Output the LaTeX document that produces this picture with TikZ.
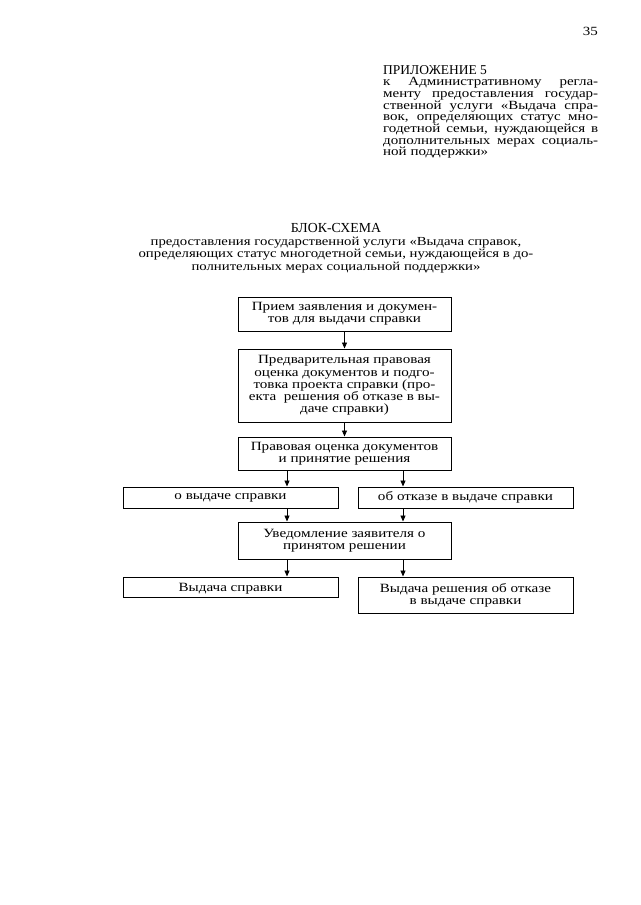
\documentclass[tikz,border=0pt]{standalone}
\usepackage{fontspec}
\setmainfont{Liberation Serif}[FakeStretch=1.2]
\newfontfamily\plainserif{Liberation Serif}
\usetikzlibrary{arrows.meta}
\begin{document}
\begin{tikzpicture}[x=1pt,y=-1pt,
  box/.style={draw, line width=1pt, inner sep=0pt, align=center,
    font=\fontsize{12.6}{12.2}\selectfont},
  wbox/.style={box, minimum width=213pt},
  sbox/.style={box, minimum width=215pt},
  arr/.style={-{Triangle[length=6pt,width=5pt]}, line width=0.9pt},
  txt/.style={inner sep=0pt, font=\fontsize{12.5}{11.67}\selectfont}]
\useasboundingbox[fill=white] (0,0) rectangle (640,905);
% page number
\node[txt, anchor=base east] (num) at (598,35) {35};
% appendix block
\node[txt, anchor=north west, align=left] (app) at (383,65) {%
{\plainserif\fontsize{13.5}{11.67}\selectfont ПРИЛОЖЕНИЕ 5}\\
\makebox[215pt][s]{к Административному регла-}\\
\makebox[215pt][s]{менту предоставления государ-}\\
\makebox[215pt][s]{ственной услуги «Выдача спра-}\\
\makebox[215pt][s]{вок, определяющих статус мно-}\\
\makebox[215pt][s]{годетной семьи, нуждающейся в}\\
\makebox[215pt][s]{дополнительных мерах социаль-}\\
ной поддержки»};
% title
\node[txt, anchor=north, align=center, font=\fontsize{12.3}{12.7}\selectfont] (title) at (336,223) {%
{\plainserif\fontsize{13.8}{12.7}\selectfont БЛОК-СХЕМА}\\
предоставления государственной услуги «Выдача справок,\\
определяющих статус многодетной семьи, нуждающейся в до-\\
полнительных мерах социальной поддержки»};
% boxes
\node[wbox, minimum height=34pt] (b1) at (344.5,314) {Прием заявления и докумен-\\тов для выдачи справки};
\node[wbox, minimum height=73pt] (b2) at (344.5,385.5) {Предварительная правовая\\оценка документов и подго-\\товка проекта справки (про-\\екта\ \ решения об отказе в вы-\\даче справки)};
\node[wbox, minimum height=33pt] (b3) at (344.5,453.5) {Правовая оценка документов\\и принятие решения};
\node[sbox, minimum height=21pt] (b4) at (230.5,497.5) {о выдаче справки};
\node[sbox, minimum height=21pt] (b5) at (465.5,497.5) {об отказе в выдаче справки};
\node[wbox, minimum height=37pt] (b6) at (344.5,540.5) {Уведомление заявителя о\\принятом решении};
\node[sbox, minimum height=20pt, text height=12pt, text depth=3pt] (b7) at (230.5,587) {Выдача справки};
\node[sbox, minimum height=36pt] (b8) at (465.5,595) {Выдача решения об отказе\\в выдаче справки};
% arrow columns
\coordinate (cl) at (287,0);
\coordinate (cr) at (403,0);
\draw[arr] (b1.south) -- (b2.north);
\draw[arr] (b2.south) -- (b3.north);
\draw[arr] (b3.south -| cl) -- (b4.north -| cl);
\draw[arr] (b3.south -| cr) -- (b5.north -| cr);
\draw[arr] (b4.south -| cl) -- (b6.north -| cl);
\draw[arr] (b5.south -| cr) -- (b6.north -| cr);
\draw[arr] (b6.south -| cl) -- (b7.north -| cl);
\draw[arr] (b6.south -| cr) -- (b8.north -| cr);
\end{tikzpicture}
\end{document}
